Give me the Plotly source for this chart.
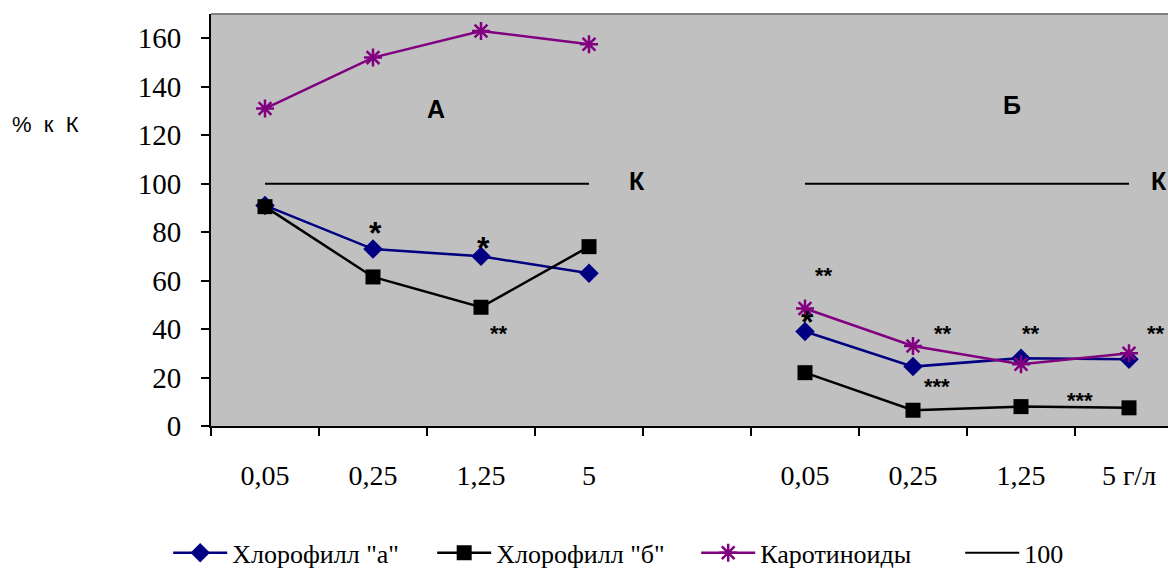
import plotly.graph_objects as go

# --- data ---
x_pos = [0, 1, 2, 3, 5, 6, 7, 8]
tick_labels = ["0,05", "0,25", "1,25", "5", "0,05", "0,25", "1,25", "5 г/л"]
chl_a = [91, 73, 70, 63, 39, 24.5, 28, 27.5]
chl_b = [90.5, 61.5, 49, 74, 22, 6.5, 8, 7.5]
carot = [131, 152, 163, 157.5, 48.5, 33, 25.5, 30]
ref_x = [0, 3, None, 5, 8]
ref_y = [100, 100, None, 100, 100]

# significance marks: (x, y, text, size)
marks = [
    (1.02, 81.5, "*", 32), (2.02, 75.5, "*", 32), (5.02, 45.0, "*", 32),
    (2.17, 39.5, "**", 22), (5.18, 63.5, "**", 22), (6.28, 39.5, "**", 22),
    (7.09, 39.5, "**", 22), (8.25, 39.5, "**", 22),
    (6.22, 17.5, "***", 22), (7.55, 11.8, "***", 22),
]
labels = [(1.58, 131, "А"), (6.92, 132.5, "Б"), (3.44, 101, "К"), (8.28, 101, "К")]

serif = "Liberation Serif"
sans = "Liberation Sans"

def split(v):
    return v[:4] + [None] + v[4:]

fig = go.Figure()
fig.add_trace(go.Scatter(x=split(x_pos), y=split(chl_a),
                         mode="lines+markers", name='Хлорофилл "а"',
                         line=dict(color="#000080", width=2.5),
                         marker=dict(symbol="diamond", size=15, color="#000080")))
fig.add_trace(go.Scatter(x=split(x_pos), y=split(chl_b),
                         mode="lines+markers", name='Хлорофилл "б"',
                         line=dict(color="black", width=2.5),
                         marker=dict(symbol="square", size=15, color="black")))
fig.add_trace(go.Scatter(x=split(x_pos), y=split(carot),
                         mode="lines+markers", name="Каротиноиды",
                         line=dict(color="#800080", width=2.5),
                         marker=dict(symbol="asterisk-open", size=15,
                                     line=dict(color="#800080", width=2.5))))
fig.add_trace(go.Scatter(x=ref_x, y=ref_y, mode="lines", name="100",
                         line=dict(color="black", width=2)))
# invisible trace bound to label axis
fig.add_trace(go.Scatter(x=x_pos, y=chl_a, xaxis="x2", mode="markers",
                         marker=dict(opacity=0), showlegend=False, hoverinfo="skip"))

for (mx, my, t, s) in marks:
    fig.add_annotation(x=mx, y=my, text="<b>" + t + "</b>", showarrow=False,
                       yshift=-0.15 * s,
                       font=dict(family=sans, size=s, color="black"))
for (lx, ly, t) in labels:
    fig.add_annotation(x=lx, y=ly, text="<b>" + t + "</b>", showarrow=False,
                       font=dict(family=sans, size=25, color="black"))
fig.add_annotation(xref="paper", yref="paper", x=-0.1696, y=0.767, text="%  к  К",
                   showarrow=False, xanchor="center",
                   font=dict(family=sans, size=22, color="black"))

L, T, B = 203, 6, 150
plot_w = 1176 - L
xr = [-0.5, -0.5 + plot_w / 108.0]
fig.update_layout(
    width=1176, height=568,
    margin=dict(l=L, r=0, t=T, b=B, autoexpand=False),
    paper_bgcolor="white", plot_bgcolor="#C0C0C0",
    font=dict(family=serif, color="black"),
    showlegend=True,
    legend=dict(orientation="h", x=-0.044, xanchor="left", y=-0.308, yanchor="middle",
                font=dict(family=serif, size=26, color="black"), itemwidth=54,
                entrywidth=195, bgcolor="rgba(0,0,0,0)"),
    xaxis=dict(range=xr, tickvals=[-0.5 + i for i in range(10)], showticklabels=False,
               ticks="outside", ticklen=8, tickwidth=2, tickcolor="black",
               showline=True, linecolor="black", linewidth=2, showgrid=False,
               zeroline=False),
    xaxis2=dict(range=xr, overlaying="x", anchor="y", side="bottom",
                tickvals=x_pos, ticktext=tick_labels, ticks="", showline=False,
                showgrid=False, zeroline=False, ticklabelstandoff=30,
                tickfont=dict(family=serif, size=28, color="black")),
    yaxis=dict(range=[0, 170], tickvals=list(range(0, 161, 20)),
               ticks="outside", ticklen=8, tickwidth=2, tickcolor="black",
               showline=True, linecolor="black", linewidth=2, showgrid=False,
               zeroline=False, ticklabelstandoff=14,
               tickfont=dict(family=serif, size=29, color="black")),
)
fig.add_shape(type="line", xref="paper", yref="paper", x0=0, x1=1, y0=1, y1=1,
              line=dict(color="#808080", width=2))
fig.write_html("out.html")
